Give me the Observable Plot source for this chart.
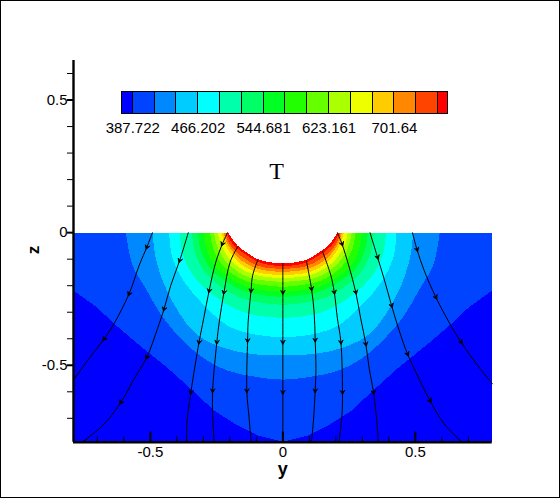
<!DOCTYPE html>
<html>
<head>
<meta charset="utf-8">
<script src="https://cdn.jsdelivr.net/npm/d3@7"></script>
<script src="https://cdn.jsdelivr.net/npm/@observablehq/plot@0.6"></script>
<style>
html,body{margin:0;padding:0;background:#fff}
#chart{position:relative;width:560px;height:498px;box-sizing:border-box;overflow:hidden}
#chart svg{position:absolute;left:0;top:0}
#frame{position:absolute;left:0;top:0;width:560px;height:498px;box-sizing:border-box;border:1px solid #000;pointer-events:none}
</style>
</head>
<body>
<div id="chart"><div id="frame"></div></div>
<script>
// Colour levels of T (contour bands, low to high)
const bandColors = ["#0000ff","#0044ff","#0088ff","#00ccff","#00ffff","#00ffaa","#00ff66","#00ff22",
                    "#22ff00","#66ff00","#aaff00","#eeff00","#ffcc00","#ff8800","#ff4400","#ff0000"];
const levelEdges = [374.2,387.722,413.88,440.04,466.202,492.36,518.52,544.681,570.84,597.0,623.161,649.32,675.48,701.64,727.8,753.96,766.1];
const levelLabels = [387.722,466.202,544.681,623.161,701.64];

// Field extent, ticks
const fieldX = [-0.79,0.79];
const fieldZ = [-0.79,-0.002];
const zBottom = -0.79;
const zTop = 0.649;
const majorTicks = [-0.5,0,0.5];
const xMinor = [-0.7,-0.6,-0.4,-0.3,-0.2,-0.1,0.1,0.2,0.3,0.4,0.6,0.7];
const zMinor = [-0.7,-0.6,-0.4,-0.3,-0.2,-0.1,0.1,0.2,0.3,0.4,0.6];
const xMinorTop = -0.77;
const xMajorTop = -0.752;

// Right half of each contour [y, z], mirrored on y = 0
const edge1 = [[0.79,0],[0.79,-0.218],[0.70,-0.283],[0.637,-0.343],[0.548,-0.419],[0.435,-0.510],[0.347,-0.589],[0.259,-0.671],[0.171,-0.727],[0.095,-0.765],[0,-0.788]];
const edge2 = [[0.592,0],[0.567,-0.123],[0.517,-0.211],[0.454,-0.318],[0.372,-0.412],[0.297,-0.475],[0.209,-0.520],[0.095,-0.545],[0,-0.554]];
const edge3 = [[0.492,0],[0.479,-0.098],[0.435,-0.224],[0.335,-0.375],[0.234,-0.431],[0.121,-0.457],[0,-0.463]];
const edge4 = [[0.429,0],[0.416,-0.098],[0.372,-0.186],[0.297,-0.274],[0.209,-0.350],[0.121,-0.381],[0,-0.394]];
const edge5 = [[0.389,0],[0.377,-0.083],[0.332,-0.170],[0.264,-0.234],[0.181,-0.287],[0.094,-0.313],[0,-0.321]];
const edge6 = [[0.343,0],[0.332,-0.075],[0.294,-0.151],[0.234,-0.204],[0.162,-0.245],[0.083,-0.264],[0,-0.272]];
const edge7 = [[0.321,0],[0.309,-0.068],[0.275,-0.136],[0.219,-0.181],[0.151,-0.219],[0.075,-0.236],[0,-0.242]];
const edge8 = [[0.298,0],[0.287,-0.064],[0.257,-0.125],[0.204,-0.170],[0.140,-0.204],[0.072,-0.217],[0,-0.223]];
const edge9 = [[0.275,0],[0.264,-0.057],[0.238,-0.109],[0.192,-0.155],[0.132,-0.185],[0.068,-0.198],[0,-0.204]];
const edge10 = [[0.260,0],[0.249,-0.049],[0.223,-0.098],[0.181,-0.140],[0.125,-0.170],[0.064,-0.181],[0,-0.185]];
const edge11 = [[0.245,0],[0.234,-0.045],[0.208,-0.091],[0.170,-0.128],[0.113,-0.157],[0.057,-0.168],[0,-0.170]];
const edge12 = [[0.230,0],[0.219,-0.042],[0.196,-0.079],[0.162,-0.117],[0.106,-0.147],[0.053,-0.157],[0,-0.158]];
const edge13 = [[0.223,0],[0.211,-0.038],[0.189,-0.072],[0.155,-0.106],[0.102,-0.134],[0.049,-0.145],[0,-0.147]];
const edge14 = [[0.217,0],[0.204,-0.038],[0.181,-0.068],[0.147,-0.096],[0.094,-0.125],[0.045,-0.134],[0,-0.136]];
const edge15 = [[0.211,0],[0.196,-0.034],[0.174,-0.058],[0.140,-0.083],[0.091,-0.111],[0.045,-0.123],[0,-0.125]];
const holeEdge = [[0.207,0.006],[0.206,0],[0.189,-0.026],[0.171,-0.049],[0.140,-0.072],[0.095,-0.100],[0.045,-0.112],[0,-0.116]];

// Streamlines [y, z]
const lineA = [[-0.492,0],[-0.513,-0.054],[-0.542,-0.123],[-0.580,-0.230],[-0.637,-0.343],[-0.674,-0.400],[-0.737,-0.482],[-0.788,-0.553]];
const lineB = [[-0.357,0],[-0.389,-0.104],[-0.423,-0.199],[-0.448,-0.287],[-0.473,-0.362],[-0.513,-0.469],[-0.561,-0.551],[-0.611,-0.639],[-0.674,-0.721],[-0.754,-0.788]];
const lineC = [[-0.209,0],[-0.228,-0.042],[-0.253,-0.111],[-0.278,-0.218],[-0.299,-0.325],[-0.316,-0.412],[-0.347,-0.601],[-0.362,-0.714],[-0.363,-0.788]];
const lineD = [[-0.171,-0.054],[-0.199,-0.111],[-0.222,-0.224],[-0.240,-0.337],[-0.249,-0.412],[-0.265,-0.595],[-0.265,-0.689],[-0.259,-0.788]];
const lineE = [[-0.095,-0.104],[-0.114,-0.161],[-0.120,-0.218],[-0.131,-0.337],[-0.133,-0.406],[-0.136,-0.595],[-0.127,-0.702],[-0.120,-0.788]];
const lineF = [[0,-0.116],[0,-0.224],[0,-0.412],[0,-0.601],[0,-0.788]];
const lineG = [[0.089,-0.107],[0.108,-0.211],[0.118,-0.299],[0.122,-0.404],[0.125,-0.513],[0.122,-0.595],[0.116,-0.702],[0.108,-0.788]];
const lineH = [[0.150,-0.071],[0.181,-0.161],[0.194,-0.224],[0.206,-0.325],[0.219,-0.412],[0.225,-0.601],[0.223,-0.689],[0.212,-0.788]];
const lineI = [[0.206,0],[0.223,-0.042],[0.250,-0.129],[0.275,-0.224],[0.294,-0.325],[0.313,-0.419],[0.326,-0.513],[0.342,-0.601],[0.357,-0.740],[0.360,-0.788]];
const lineJ = [[0.329,0],[0.357,-0.092],[0.382,-0.174],[0.410,-0.274],[0.439,-0.369],[0.470,-0.457],[0.502,-0.526],[0.555,-0.633],[0.609,-0.721],[0.674,-0.788]];
const lineK = [[0.489,0],[0.506,-0.063],[0.533,-0.142],[0.577,-0.243],[0.634,-0.350],[0.672,-0.412],[0.735,-0.501],[0.791,-0.570]];

// Which point of each streamline carries an arrowhead
const lines = [lineA,lineB,lineC,lineD,lineE,lineF,lineG,lineH,lineI,lineJ,lineK];
const arrowAt = [[1,3,5],[1,3,5,7],[1,3,5,6],[2,4,5],[2,4,5],[1,2,3],[1,3,5],[2,4,5],[1,3,5,7],[1,3,5,7],[1,3,5]];

const ring = e => [...e, ...e.slice(0,-1).reverse().map(([x,z]) => [-x,z])];
const inner = [edge2,edge3,edge4,edge5,edge6,edge7,edge8,edge9,edge10,edge11,edge12,edge13,edge14,edge15];
const crisp = {shapeRendering:"crispEdges"};
const font = "'Liberation Sans',Arial,sans-serif";

const arrows = lines.flatMap((l,i) => arrowAt[i].map(k => {
  const a = l[k-1], b = l[k+1] || l[k];
  return {x:l[k][0], z:l[k][1], angle: Math.atan2(b[0]-a[0], b[1]-a[1]) * 180 / Math.PI};
}));
const chevron = {draw(c, l) {
  c.moveTo(-2.2, -l + 4); c.lineTo(0, -l); c.lineTo(2.2, -l + 4);
  c.lineTo(0, -l + 2.5); c.closePath();
}};

const main = Plot.plot({
  width:560, height:498,
  marginLeft:73, marginRight:68.3, marginTop:60, marginBottom:56.3,
  style:{background:"transparent", fontFamily:font, color:"#000"},
  x:{domain:fieldX},
  y:{domain:[zBottom,zTop]},
  marks:[
    Plot.rect([0],{x1:fieldX[0],x2:fieldX[1],y1:fieldZ[0],y2:fieldZ[1],fill:bandColors[0],...crisp}),
    Plot.line(ring(edge1),{x:"0",y:"1",fill:bandColors[1],stroke:"none",...crisp}),
    ...inner.map((e,i) => Plot.line(ring(e),{x:"0",y:"1",fill:bandColors[i+2],stroke:"none",curve:"catmull-rom",...crisp})),
    Plot.line(ring(holeEdge),{x:"0",y:"1",fill:"#fff",stroke:"none",curve:"catmull-rom",...crisp}),
    ...lines.map(l => Plot.line(l,{x:"0",y:"1",stroke:"#000",strokeWidth:1,curve:"catmull-rom"})),
    Plot.vector(arrows,{x:"x",y:"z",rotate:"angle",length:5,shape:chevron,stroke:"#000",fill:"#000",strokeWidth:0.8}),
    Plot.ruleX(xMinor,{x:d=>d,y1:zBottom,y2:xMinorTop,stroke:"#000",strokeWidth:1}),
    Plot.ruleX(majorTicks,{x:d=>d,y1:zBottom,y2:xMajorTop,stroke:"#000",strokeWidth:2}),
    Plot.ruleX([fieldX[0]],{y1:zBottom,y2:zTop,stroke:"#000",strokeWidth:2.4}),
    Plot.ruleY([zBottom],{x1:fieldX[0],x2:fieldX[1],stroke:"#000",strokeWidth:2.4}),
    Plot.axisY({ticks:zMinor,tickSize:6,text:null,label:null,stroke:"#000",strokeWidth:1}),
    Plot.axisY({ticks:majorTicks,tickSize:6,tickPadding:0,tickFormat:d=>String(d),label:null,fontSize:15,stroke:"#000",strokeWidth:2}),
    Plot.axisX({ticks:majorTicks,tickSize:0,tickPadding:4,tickFormat:d=>String(d),label:null,fontSize:15}),
    Plot.text(["y"],{frameAnchor:"bottom",dy:33,fontSize:18,fontWeight:700,fill:"#000"}),
    Plot.text(["z"],{frameAnchor:"left",rotate:-90,dx:-40,dy:3,fontSize:17,fontWeight:700,fill:"#000"}),
    Plot.text(["T"],{x:[-0.024],y:[0.231],fontSize:24,fontFamily:"'Liberation Serif','Times New Roman',serif",fill:"#000"})
  ]
});

const cells = bandColors.map((c,i) => ({x1:levelEdges[i],x2:levelEdges[i+1],c}));
const bar = Plot.plot({
  width:560, height:498,
  marginLeft:121, marginRight:112.3, marginTop:91.7, marginBottom:384.7,
  style:{background:"transparent", fontFamily:font, pointerEvents:"none"},
  x:{domain:[levelEdges[0],levelEdges[levelEdges.length-1]],axis:null},
  y:{domain:[0,1],axis:null},
  marks:[
    Plot.rect(cells,{x1:"x1",x2:"x2",y1:0,y2:1,fill:"c",stroke:"#000",strokeWidth:1,...crisp}),
    Plot.text(levelLabels,{x:d=>d,y:0,text:d=>String(d),dy:14.5,fontSize:15,fill:"#000"})
  ]
});

const root = document.getElementById("chart");
root.insertBefore(main, root.firstChild);
root.insertBefore(bar, main.nextSibling);
</script>
</body>
</html>
